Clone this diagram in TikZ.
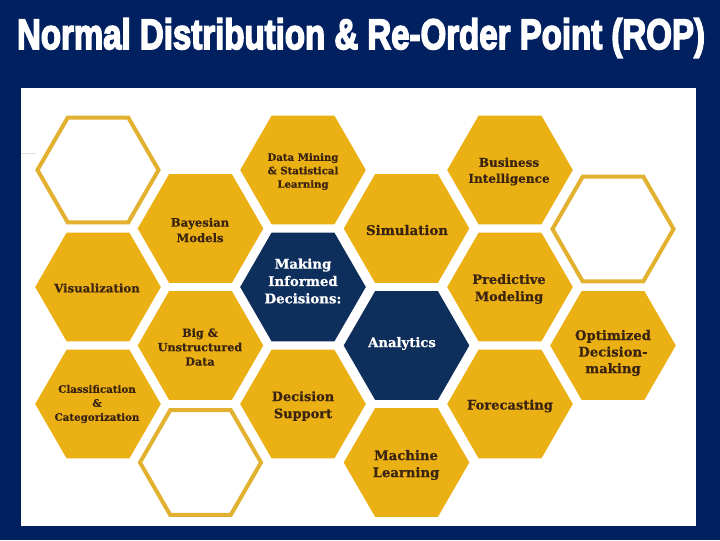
\documentclass[tikz,border=0pt]{standalone}
\usepackage{fontspec}
\usepackage{graphicx}
\usetikzlibrary{shapes.geometric}
\setmainfont{DejaVu Serif}[BoldFeatures={FakeBold=0.5}]
\newfontfamily\titlefont[FakeBold=4]{Liberation Sans Bold}
\definecolor{pagenavy}{HTML}{002060}
\definecolor{hexnavy}{HTML}{0E2F5C}
\definecolor{hexgold}{HTML}{EBB014}
\definecolor{rimgold}{HTML}{E2B130}
\definecolor{inkbrown}{HTML}{3A2410}
\tikzset{
  x=0.75pt,y=-0.75pt,
  hexbase/.style={regular polygon,regular polygon sides=6,inner sep=0pt,outer sep=0pt,minimum size=94.2pt},
  goldhex/.style={hexbase,fill=hexgold},
  navyhex/.style={hexbase,fill=hexnavy},
  rimhex/.style={hexbase,minimum size=90.8pt,draw=rimgold,line width=3pt,fill=white},
  tag/.style 2 args={align=center,inner sep=0pt,text=inkbrown,font=\bfseries\fontsize{#1pt}{#2pt}\selectfont},
}
\begin{document}
\begin{tikzpicture}
\useasboundingbox (0,0) rectangle (720,540);
\fill[pagenavy] (0,0) rectangle (720,540);
\fill[white] (21,88) rectangle (696,526);
\coordinate (nickl) at (21,153);
\coordinate (nickr) at (36,153);
\draw[black!12,line width=0.5pt] (nickl) -- (nickr);
\node[text=white,inner sep=0pt] (title) at (361,38)
  {\resizebox{516pt}{\height}{\titlefont\fontsize{32pt}{32pt}\selectfont Normal Distribution \& Re-Order Point (ROP)}};

% column 1
\node[rimhex]  (h1) at (98,170) {};
\node[goldhex] (h2) at (98,287) {};
\node[goldhex] (h3) at (98,404) {};
% column 2
\node[goldhex] (h4) at (200.5,228.5) {};
\node[goldhex] (h5) at (200.5,345.5) {};
\node[rimhex]  (h6) at (200.5,462.5) {};
% column 3
\node[goldhex] (h7) at (303,170) {};
\node[navyhex] (h8) at (303,287) {};
\node[goldhex] (h9) at (303,404) {};
% column 4
\node[goldhex] (h10) at (406.5,228.5) {};
\node[navyhex] (h11) at (406.5,345.5) {};
\node[goldhex] (h12) at (406.5,462.5) {};
% column 5
\node[goldhex] (h13) at (510,170) {};
\node[goldhex] (h14) at (510,287) {};
\node[goldhex] (h15) at (510,404) {};
% column 6
\node[rimhex]  (h16) at (613,229) {};
\node[goldhex] (h17) at (613,345.5) {};

\node[tag={8.8}{10.5}] (t2) at (97,288) {Visualization};
\node[tag={7.7}{10.5}] (t3) at (97,404) {Classification\\\&\\Categorization};
\node[tag={8.7}{11.6}] (t4) at (200,230) {Bayesian\\Models};
\node[tag={8.4}{10.8}] (t5) at (200,347) {Big \&\\Unstructured\\Data};
\node[tag={7.6}{10.1}] (t7) at (303,171.5) {Data Mining\\\& Statistical\\Learning};
\node[tag={10}{13},text=white] (t8) at (303,281) {Making\\Informed\\Decisions:};
\node[tag={9.7}{12.8}] (t9) at (303,406) {Decision\\Support};
\node[tag={10}{12}] (t10) at (407,230) {Simulation};
\node[tag={9.9}{12},text=white] (t11) at (402,343.5) {Analytics};
\node[tag={9.9}{12.8}] (t12) at (406,465) {Machine\\Learning};
\node[tag={9.05}{12}] (t13) at (509,171.5) {Business\\Intelligence};
\node[tag={9.7}{12.8}] (t14) at (509,289) {Predictive\\Modeling};
\node[tag={9.8}{12}] (t15) at (510,406) {Forecasting};
\node[tag={9.9}{12.4}] (t17) at (613,353) {Optimized\\Decision-\\making};
\end{tikzpicture}
\end{document}
